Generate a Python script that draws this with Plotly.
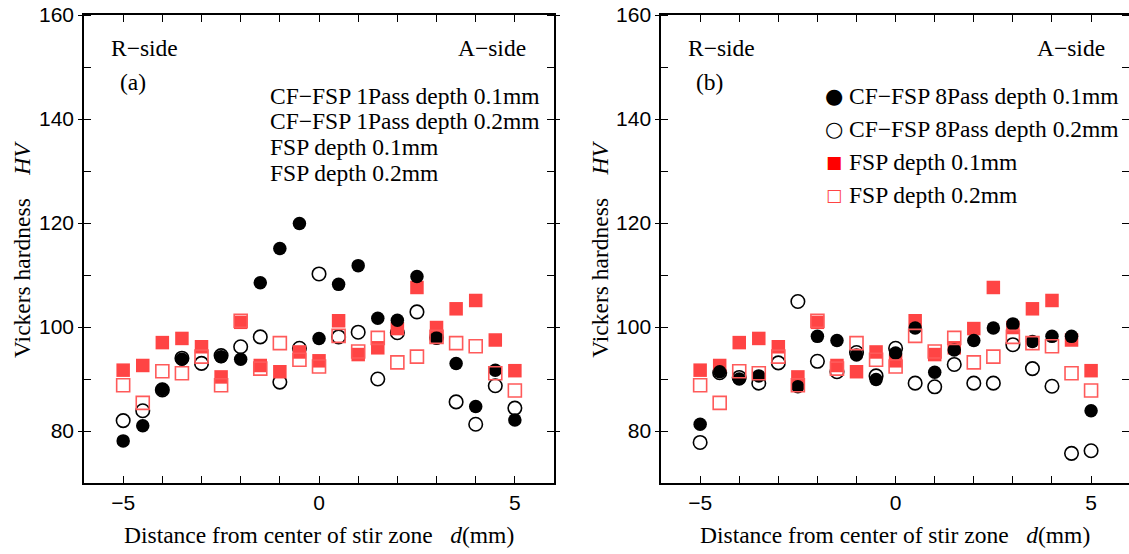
import plotly.graph_objects as go
from plotly.subplots import make_subplots

# distance from stir zone center (mm)
dist = [-5, -4.5, -4, -3.5, -3, -2.5, -2, -1.5, -1, -0.5, 0,
        0.5, 1, 1.5, 2, 2.5, 3, 3.5, 4, 4.5, 5]

# (a) CF-FSP 1 pass  (no visible point at -3 mm)
cf1_d01 = [78.1, 81.0, 88.0, 93.8, None, 94.3, 93.8, 108.5, 115.1, 119.9, 97.8,
           108.2, 111.8, 101.7, 101.3, 109.7, 97.9, 93.0, 84.7, 91.7, 82.1]
cf1_d02 = [82.0, 83.9, 87.9, 94.0, 93.0, 94.5, 96.2, 98.1, 89.4, 95.9, 110.2,
           98.1, 99.0, 90.0, 98.9, 102.9, 98.0, 85.6, 81.3, 88.7, 84.4]

# (b) CF-FSP 8 pass
cf8_d01 = [81.3, 91.4, 90.0, 90.6, None, 88.5, 98.2, 97.4, 94.6, 89.9, 95.0,
           99.8, 91.3, 95.6, 97.4, 99.8, 100.6, 97.2, 98.2, 98.2, 83.9]
cf8_d02 = [77.8, 91.2, 90.3, 89.2, 93.1, 104.9, 93.4, 91.4, 95.1, 90.6, 95.9,
           89.2, 88.5, 92.8, 89.2, 89.2, 96.6, 92.0, 88.6, 75.7, 76.2]

# plain FSP (same reference in both panels)
fsp_d01 = [91.7, 92.6, 97.0, 97.8, 96.2, 90.4, 100.9, 92.6, 91.4, 95.2, 93.5,
           101.2, 94.7, 96.0, 99.7, 107.6, 99.9, 103.5, 105.1, 97.5, 91.6]
fsp_d02 = [88.8, 85.4, 91.5, 91.1, 94.3, 88.8, 101.2, 92.0, 96.9, 93.7, 92.4,
           98.3, 95.3, 97.9, 93.2, 94.3, 98.1, 96.9, 96.3, 91.1, 87.8]

RED = "#ff4444"
RED_OPEN = "#ff5a5a"
SERIF = "Liberation Serif"
SANS = "Liberation Sans"
FS = 23.5

fig = make_subplots(rows=1, cols=2)


def add_panel(col, filled, hollow):
    # draw order picked to match overlaps in the original
    fig.add_trace(go.Scatter(x=dist, y=hollow, mode="markers",
                             marker=dict(symbol="circle-open", size=13.5, color="black",
                                         line=dict(width=1.6))), row=1, col=col)
    fig.add_trace(go.Scatter(x=dist, y=fsp_d01, mode="markers",
                             marker=dict(symbol="square", size=13.5, color=RED,
                                         line=dict(width=0))), row=1, col=col)
    fig.add_trace(go.Scatter(x=dist, y=filled, mode="markers",
                             marker=dict(symbol="circle", size=13.5, color="black",
                                         line=dict(width=0))), row=1, col=col)
    fig.add_trace(go.Scatter(x=dist, y=fsp_d02, mode="markers",
                             marker=dict(symbol="square-open", size=13, color=RED_OPEN,
                                         line=dict(width=1.6))), row=1, col=col)


add_panel(1, cf1_d01, cf1_d02)
add_panel(2, cf8_d01, cf8_d02)

xax = dict(showline=True, linecolor="black", linewidth=1.5, mirror="ticks",
           ticks="inside", ticklen=7, tickwidth=1.2, tickcolor="black",
           tickvals=[-5, 0, 5], ticktext=["\u22125", "0", "5"],
           minor=dict(dtick=1, ticks="inside", ticklen=7, tickwidth=1.2, tickcolor="black"),
           showgrid=False, zeroline=False, automargin=False,
           tickfont=dict(family=SANS, size=21, color="black"))
yax = dict(showline=True, linecolor="black", linewidth=1.5, mirror="ticks",
           range=[70, 160], tick0=0, dtick=20,
           ticks="outside", ticklen=4, tickwidth=1.2, tickcolor="black",
           minor=dict(dtick=10, ticks="inside", ticklen=7, tickwidth=1.2, tickcolor="black"),
           showgrid=False, zeroline=False, automargin=False, ticklabeloverflow="allow",
           tickfont=dict(family=SANS, size=21, color="black"))

fig.update_layout(
    width=1129, height=554,
    margin=dict(l=84, r=0, t=15, b=71),
    paper_bgcolor="white", plot_bgcolor="white",
    showlegend=False,
    xaxis=dict(domain=[0, 0.4498], range=[-6, 6], **xax),
    xaxis2=dict(domain=[0.5522, 1.0], range=[-6, 5.97], **xax),
    yaxis=dict(domain=[0, 1], **yax),
    yaxis2=dict(domain=[0, 1], **yax),
)

ann = []


def txt(text, xref, x, y, xanchor="left", size=FS, color="black", family=SERIF):
    ann.append(dict(text=text, xref=xref, yref="y domain", x=x, y=y,
                    xanchor=xanchor, yanchor="middle", showarrow=False,
                    font=dict(family=family, size=size, color=color)))


for xr in ["x domain", "x2 domain"]:
    txt("R\u2212side", xr, 0.054, 0.9295)
    txt("A\u2212side", xr, 0.954 if xr == "x2 domain" else 0.9447, 0.9295, xanchor="right")

txt("(a)", "x domain", 0.072, 0.8568)
txt("(b)", "x2 domain", 0.0705, 0.8568)

# panel (a) legend: text only, as in the original
legend_a = ["CF\u2212FSP 1Pass depth 0.1mm", "CF\u2212FSP 1Pass depth 0.2mm",
            "FSP depth 0.1mm", "FSP depth 0.2mm"]
for lab, yy in zip(legend_a, [0.8269, 0.7735, 0.7179, 0.6624]):
    txt(lab, "x domain", 0.3915, yy)

# panel (b) legend with symbols
legend_b = ["CF\u2212FSP 8Pass depth 0.1mm", "CF\u2212FSP 8Pass depth 0.2mm",
            "FSP depth 0.1mm", "FSP depth 0.2mm"]
sym_b = [("\u25cf", "black", 21), ("\u25cb", "black", 21), ("\u25a0", "red", 17), ("\u25a1", RED, 17)]
for lab, (s, c, sz), yy in zip(legend_b, sym_b, [0.8269, 0.7564, 0.6859, 0.6154]):
    txt(s, "x2 domain", 0.3697, yy, xanchor="center", size=sz, color=c, family="DejaVu Sans")
    txt(lab, "x2 domain", 0.3974, yy)

# axis titles
ytitle = "Vickers hardness\u00a0\u00a0\u00a0\u00a0<i>HV</i>"
xtitle = "Distance from center of stir zone\u00a0\u00a0\u00a0<i>d</i>(mm)"
for xr, xc in [("x domain", -0.132), ("x2 domain", -0.131)]:
    ann.append(dict(text=ytitle, xref=xr, yref="y domain", x=xc, y=0.5, textangle=-90,
                    xanchor="center", yanchor="middle", showarrow=False,
                    font=dict(family=SERIF, size=FS, color="black")))
for xr in ["x domain", "x2 domain"]:
    ann.append(dict(text=xtitle, xref=xr, yref="y domain", x=0.5, y=-0.111,
                    xanchor="center", yanchor="middle", showarrow=False,
                    font=dict(family=SERIF, size=FS, color="black")))

fig.update_layout(annotations=ann)

# drop the default page margin so the figure sits at the window origin
fig.write_html("out.html", config={"displayModeBar": False},
               post_script="document.body.style.margin='0px';")
